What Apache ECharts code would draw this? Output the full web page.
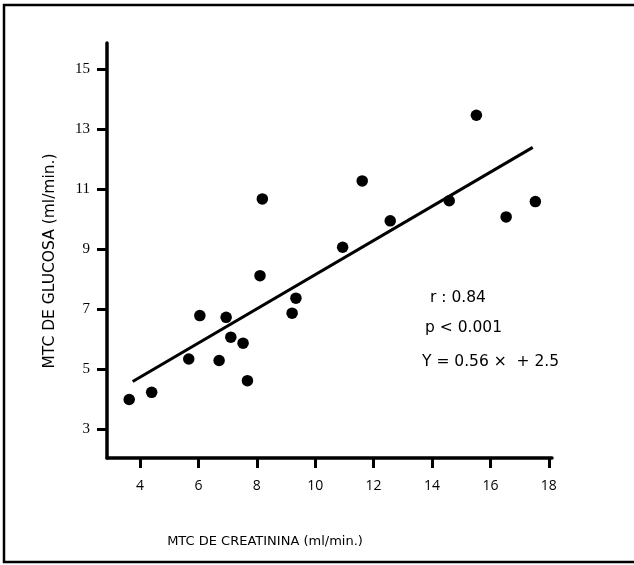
<!DOCTYPE html>
<html>
<head>
<meta charset="utf-8">
<script src="https://cdn.jsdelivr.net/npm/echarts@6/dist/echarts.min.js"></script>
<style>html,body{margin:0;padding:0;background:#fff}#c{width:634px;height:565px}</style>
</head>
<body>
<div id="c"></div>
<script>
// Data
var creatinina = [3.63, 4.40, 5.67, 6.05, 6.71, 6.95, 7.11, 7.53, 7.68, 8.11, 8.19, 9.21, 9.34, 10.94, 11.61, 12.57, 14.59, 15.52, 16.54, 17.54];
var glucosa    = [3.98, 4.22, 5.33, 6.78, 5.28, 6.72, 6.06, 5.86, 4.61, 8.11, 10.67, 6.86, 7.36, 9.06, 11.27, 9.94, 10.61, 13.46, 10.07, 10.58];
var fitX = [3.75, 17.45];
var fitY = [4.58, 12.39];
var xTicks = [4, 6, 8, 10, 12, 14, 16, 18];
var yTicks = [3, 5, 7, 9, 11, 13, 15];
var xTitle = 'MTC DE CREATININA (ml/min.)';
var yTitle = 'MTC DE GLUCOSA (ml/min.)';
var statLines = ['r : 0.84', 'p < 0.001', 'Y = 0.56 \u00d7  + 2.5'];

var points = creatinina.map(function (x, i) { return [x, glucosa[i]]; });
var fit = fitX.map(function (x, i) { return [x, fitY[i]]; });

var chart = echarts.init(document.getElementById('c'), null, {renderer: 'canvas'});
chart.setOption({
  backgroundColor: '#fff',
  animation: false,
  grid: {left: 107, right: 82, top: 43, bottom: 107},
  xAxis: {
    type: 'value', min: 2.87, max: 18.11,
    axisLine: {show: true, lineStyle: {color: '#000', width: 3.5}},
    axisTick: {show: true, length: 10, lineStyle: {color: '#000', width: 3}, customValues: xTicks},
    axisLabel: {customValues: xTicks, margin: 21, color: '#000', fontSize: 14, fontFamily: 'Open Sans'},
    splitLine: {show: false}
  },
  yAxis: {
    type: 'value', min: 2.03, max: 15.87,
    axisLine: {show: true, lineStyle: {color: '#000', width: 3.5}},
    axisTick: {show: true, length: 10, lineStyle: {color: '#000', width: 3}, customValues: yTicks},
    axisLabel: {customValues: yTicks, margin: 17, color: '#000', fontSize: 15, fontFamily: 'Liberation Serif'},
    splitLine: {show: false}
  },
  series: [
    {type: 'scatter', data: points, symbol: 'circle', symbolSize: 11.5, itemStyle: {color: '#000', opacity: 1}},
    {type: 'line', data: fit, symbol: 'none', lineStyle: {color: '#000', width: 3}}
  ],
  graphic: [
    {type: 'polyline', shape: {points: [[634, 5], [4, 5], [4, 562], [634, 562]]}, style: {fill: 'none', stroke: '#000', lineWidth: 2.5}, silent: true},
    {type: 'text', x: 265, y: 542, style: {text: xTitle, fill: '#000', font: '13px "DejaVu Sans"', align: 'center', verticalAlign: 'middle'}},
    {type: 'text', x: 50, y: 261, rotation: Math.PI / 2, style: {text: yTitle, fill: '#000', font: '15.5px "DejaVu Sans"', align: 'center', verticalAlign: 'middle'}},
    {type: 'text', x: 430, y: 298, style: {text: statLines[0], fill: '#000', font: '15.5px "DejaVu Sans"', verticalAlign: 'middle'}},
    {type: 'text', x: 425, y: 328, style: {text: statLines[1], fill: '#000', font: '15.5px "DejaVu Sans"', verticalAlign: 'middle'}},
    {type: 'text', x: 422, y: 362, style: {text: statLines[2], fill: '#000', font: '15.5px "DejaVu Sans"', verticalAlign: 'middle'}}
  ]
});
</script>
</body>
</html>
